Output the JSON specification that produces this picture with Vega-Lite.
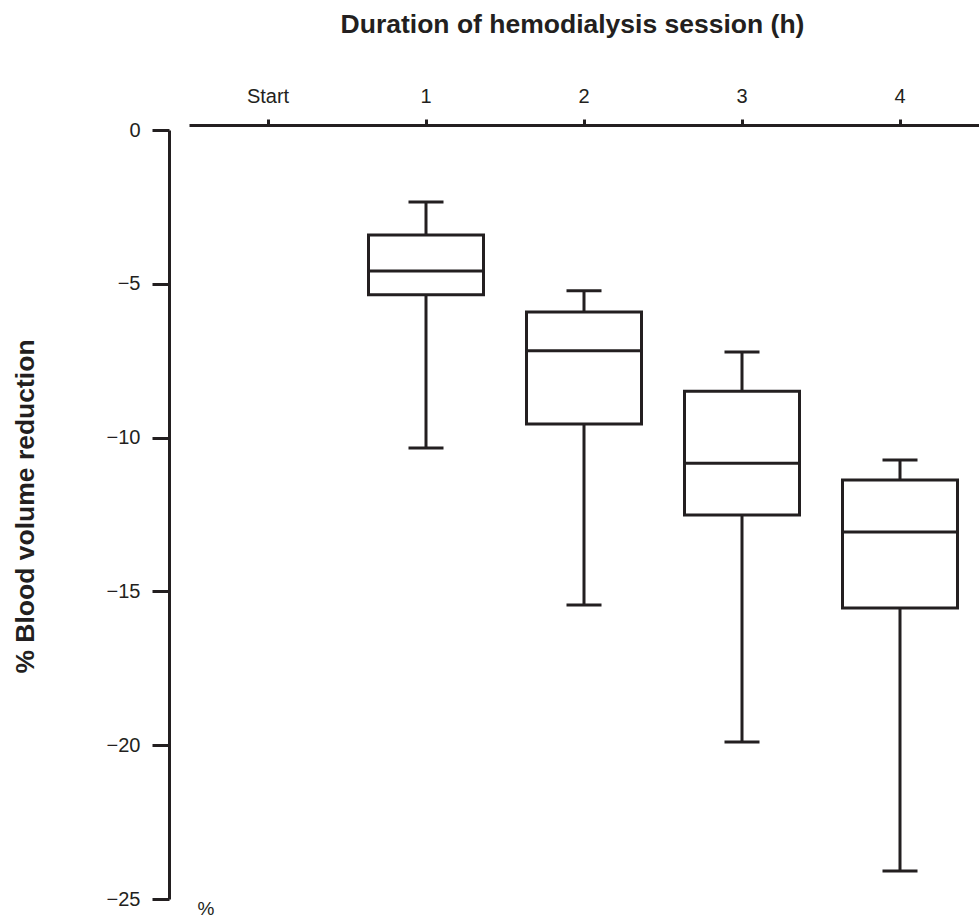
{
  "$schema": "https://vega.github.io/schema/vega-lite/v6.json",
  "autosize": "none",
  "width": 790,
  "height": 769,
  "padding": {"left": 189, "top": 130, "right": 0, "bottom": 23},
  "background": "white",
  "config": {
    "view": {"stroke": null},
    "font": "Liberation Sans",
    "axis": {"grid": false, "labelFont": "Liberation Sans", "titleFont": "Liberation Sans", "labelColor": "#231f20", "titleColor": "#231f20", "domainColor": "#231f20", "tickColor": "#231f20"}
  },
  "data": {
    "values": [
      {"time": "1", "min": -10.34, "q1": -5.36, "median": -4.58, "q3": -3.41, "max": -2.34},
      {"time": "2", "min": -15.44, "q1": -9.56, "median": -7.18, "q3": -5.92, "max": -5.23},
      {"time": "3", "min": -19.9, "q1": -12.52, "median": -10.83, "q3": -8.49, "max": -7.22},
      {"time": "4", "min": -24.09, "q1": -15.54, "median": -13.07, "q3": -11.38, "max": -10.73}
    ]
  },
  "encoding": {
    "x": {
      "field": "time",
      "type": "nominal",
      "scale": {"domain": ["Start", "1", "2", "3", "4"], "paddingInner": 0, "paddingOuter": 0},
      "axis": {
        "orient": "top",
        "offset": 5,
        "title": "Duration of hemodialysis session (h)",
        "titleFontSize": 26.5,
        "titleFontWeight": "bold",
        "titleX": 383,
        "titleY": -93,
        "titleAlign": "center",
        "titleBaseline": "alphabetic",
        "labelAngle": 0,
        "labelFontSize": 20,
        "labelFontWeight": "normal",
        "labelPadding": 13,
        "tickSize": 6,
        "tickWidth": 3,
        "domainWidth": 3
      }
    }
  },
  "layer": [
    {
      "mark": {"type": "rule", "color": "#231f20", "strokeWidth": 3},
      "encoding": {
        "y": {
          "field": "min",
          "type": "quantitative",
          "scale": {"domain": [-25, 0], "nice": false, "zero": false},
          "axis": {
            "orient": "left",
            "offset": 20,
            "values": [0, -5, -10, -15, -20, -25],
            "title": "% Blood volume reduction",
            "titleFontSize": 26.5,
            "titleFontWeight": "bold",
            "titleAngle": -90,
            "titleX": -144,
            "titleY": 376,
            "titleAlign": "center",
            "titleBaseline": "middle",
            "labelFontSize": 20,
            "labelPadding": 12,
            "tickSize": 17,
            "tickWidth": 3,
            "domainWidth": 3
          }
        },
        "y2": {"field": "max"}
      }
    },
    {
      "mark": {"type": "bar", "fill": "white", "stroke": "#231f20", "strokeWidth": 3, "size": 115},
      "encoding": {
        "y": {"field": "q1", "type": "quantitative"},
        "y2": {"field": "q3"}
      }
    },
    {
      "mark": {"type": "tick", "color": "#231f20", "size": 117, "thickness": 3, "opacity": 1},
      "encoding": {"y": {"field": "median", "type": "quantitative"}}
    },
    {
      "mark": {"type": "tick", "color": "#231f20", "size": 35, "thickness": 3, "opacity": 1},
      "encoding": {"y": {"field": "min", "type": "quantitative"}}
    },
    {
      "mark": {"type": "tick", "color": "#231f20", "size": 35, "thickness": 3, "opacity": 1},
      "encoding": {"y": {"field": "max", "type": "quantitative"}}
    },
    {
      "data": {"values": [{"label": "%"}]},
      "mark": {"type": "text", "fontSize": 19, "color": "#231f20", "dx": -62, "dy": 10, "font": "Liberation Sans"},
      "encoding": {
        "x": {"datum": "Start"},
        "y": {"datum": -25},
        "text": {"field": "label"}
      }
    }
  ]
}
